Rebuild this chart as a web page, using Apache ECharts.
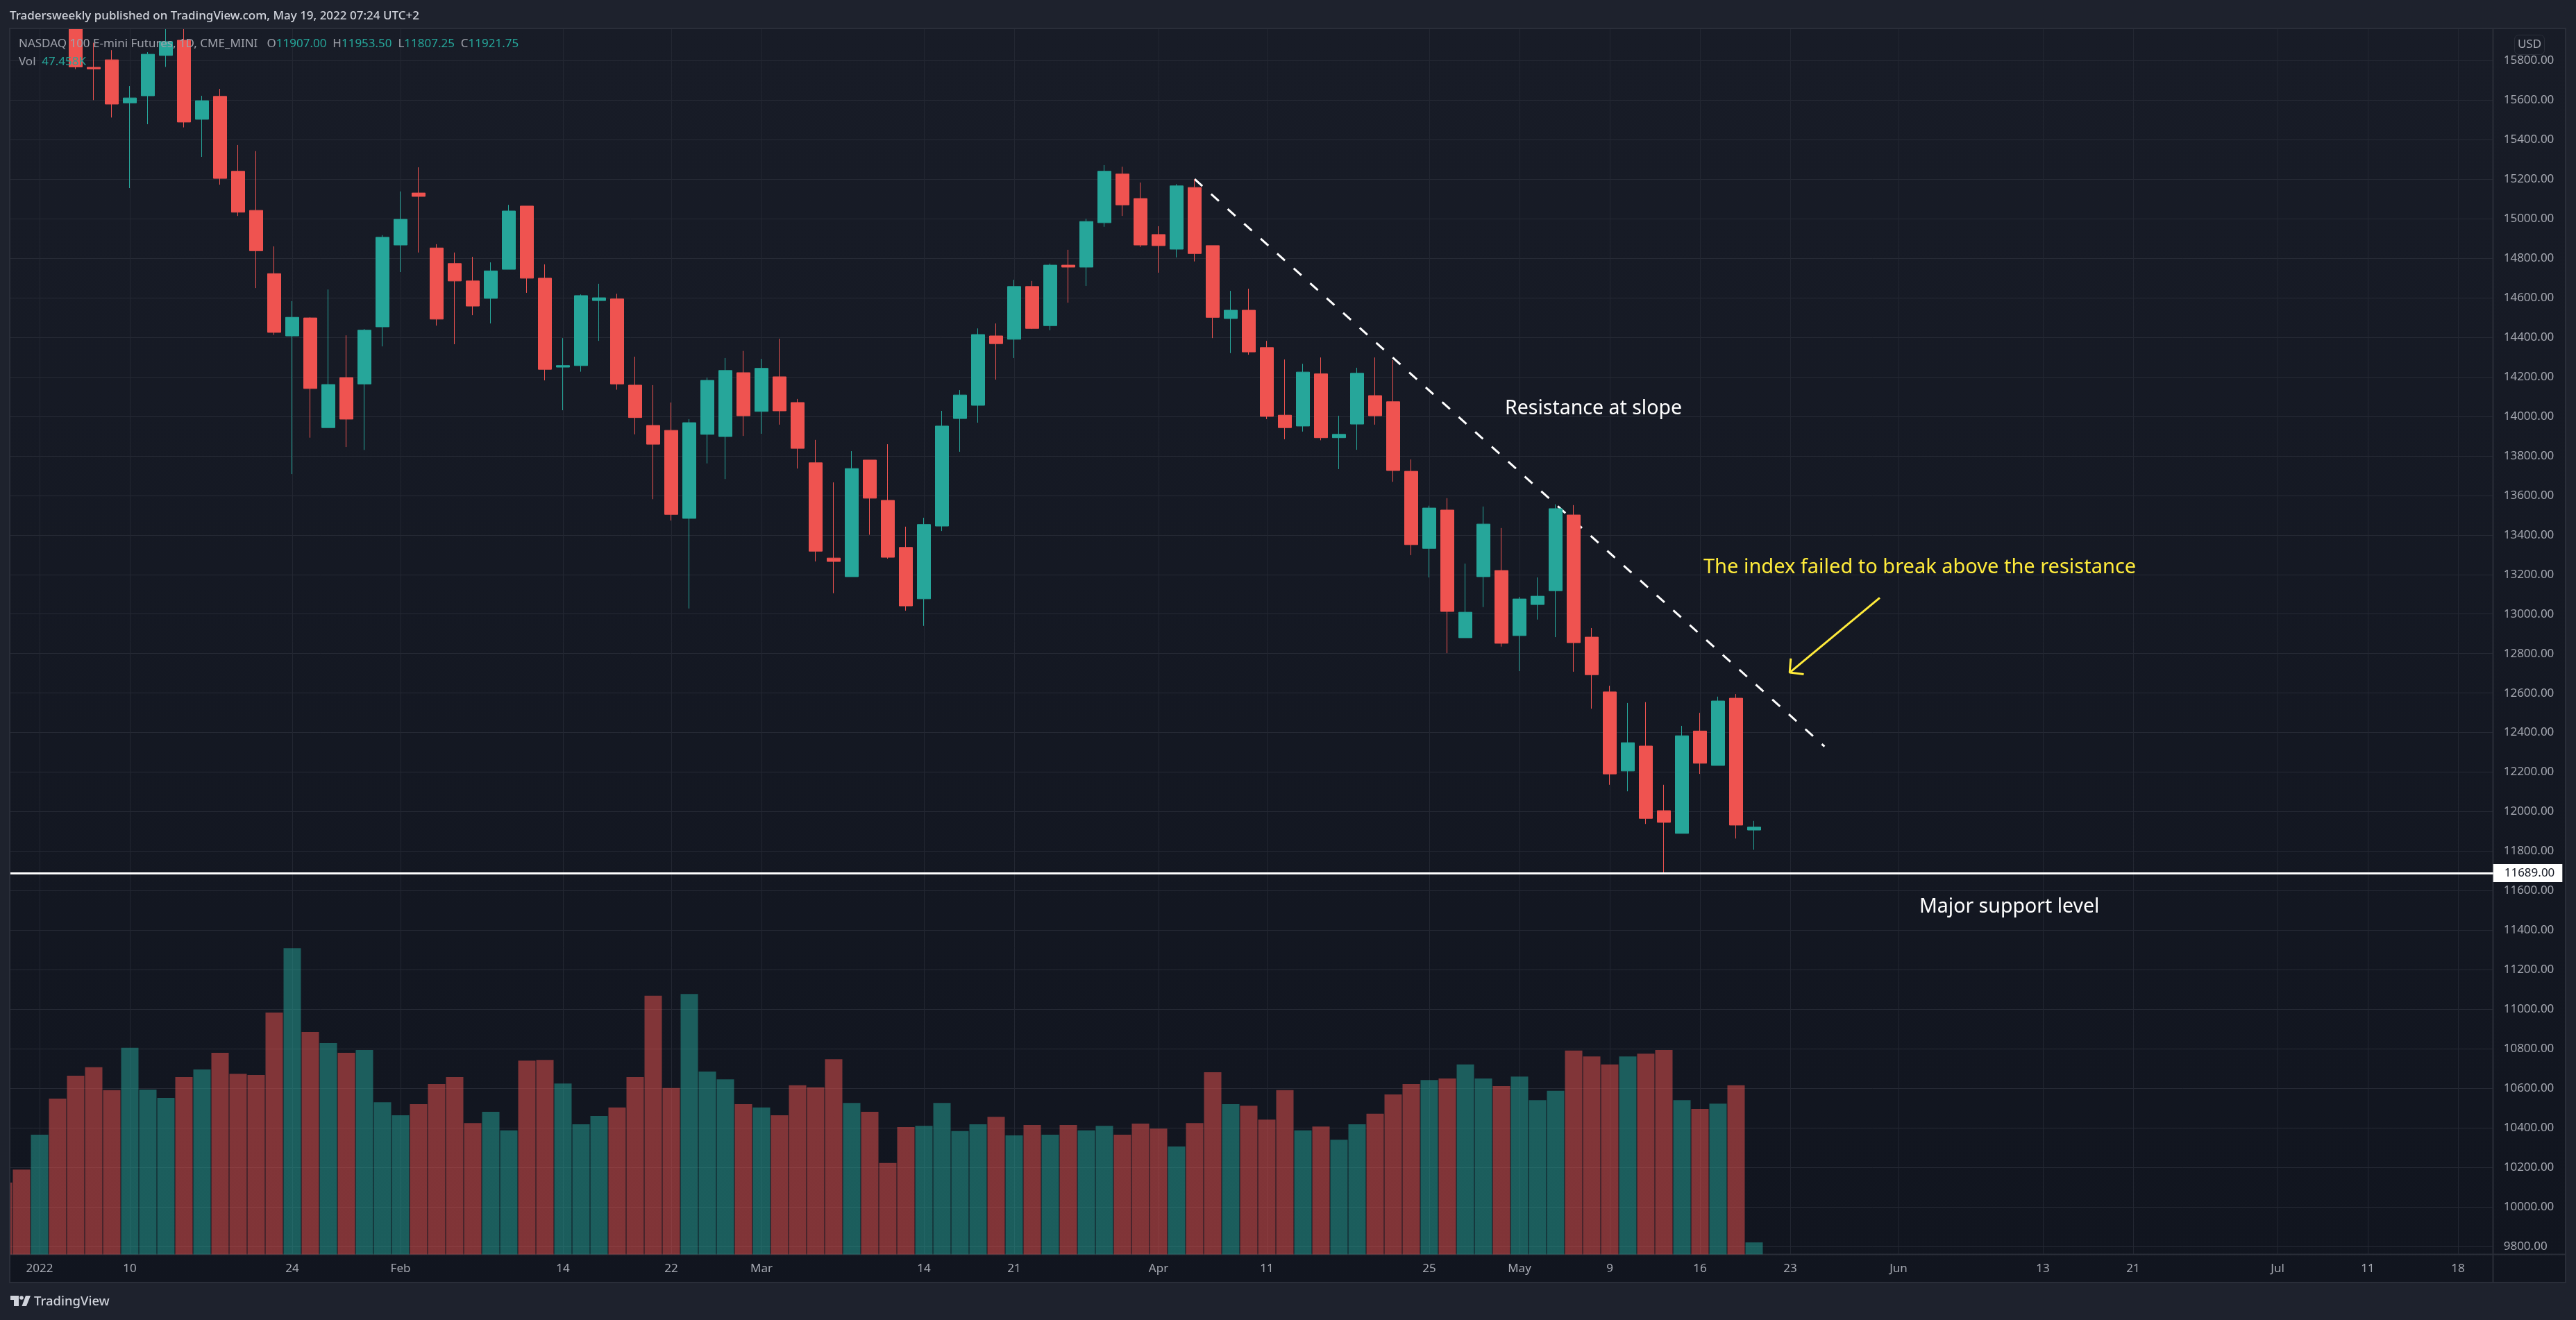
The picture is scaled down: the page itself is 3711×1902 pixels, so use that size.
<!DOCTYPE html>
<html>
<head>
<meta charset="utf-8">
<title>NASDAQ 100 E-mini Futures</title>
<script src="https://cdn.jsdelivr.net/npm/echarts@6/dist/echarts.min.js"></script>
<style>
html, body { margin: 0; padding: 0; background: #1e222d; }
#chart { width: 3711px; height: 1902px; }
</style>
</head>
<body>
<div id="chart"></div>
<script>
// session numbers, 0 = first session of 2022
const sessions = [-2,-1,0,1,2,3,4,5,6,7,8,9,10,11,12,13,14,15,16,17,18,19,20,21,22,23,24,25,26,27,28,29,30,31,32,33,34,35,36,37,38,39,40,41,42,43,44,45,46,47,48,49,50,51,52,53,54,55,56,57,58,59,60,61,62,63,64,65,66,67,68,69,70,71,72,73,74,75,76,77,78,79,80,81,82,83,84,85,86,87,88,89,90,91,92,93,94,95];

// the first bars are above the top of the pane, so these are rough
const opens = [16450,16380,16300,16480,16080,15766,15804,15586,15622,15826,15903,15503,15619,15240,15042,14722,14407,14498,13943,14196,14164,14453,14867,15130,14852,14773,14685,14597,14744,15064,14699,14249,14257,14586,14594,14158,13954,13929,13484,13909,13898,14221,14025,14200,14070,13765,13283,13189,13779,13575,13337,13077,13445,13989,14056,14407,14390,14657,14459,14765,14755,14980,15226,15102,14920,14846,15158,14864,14495,14537,14348,14006,13951,14215,13892,13961,14105,14074,13722,13332,13526,12880,13189,13220,12891,13048,13118,13501,12883,12606,12206,12332,12005,11890,12408,12234,12574,11907];
const closes = [16400,16320,16420,16300,15768,15758,15580,15611,15832,15896,15489,15597,15204,15033,14838,14425,14501,14141,14161,13986,14436,14906,14997,15113,14492,14685,14558,14736,15039,14699,14238,14257,14611,14600,14164,13994,13859,13504,13968,14182,14232,14003,14243,14028,13838,13318,13266,13736,13586,13287,13041,13453,13951,14108,14414,14368,14657,14445,14765,14755,14986,15240,15070,14867,14864,15166,14824,14501,14537,14326,14000,13943,14224,13892,13909,14218,14003,13726,13351,13536,13013,13009,13455,12852,13076,13090,13533,12855,12693,12191,12349,11966,11946,12384,12245,12560,11932,11921.75];
const lows = [16350,16280,16260,16260,15757,15600,15512,15155,15478,15768,15462,15313,15172,15014,14649,14412,13708,13892,13943,13845,13830,14354,14730,14829,14459,14365,14512,14470,14744,14625,14182,14031,14226,14382,14135,13909,13581,13473,13028,13762,13683,13901,13912,13958,13736,13266,13105,13189,13401,13280,13017,12940,13420,13821,13968,14186,14295,14442,14436,14575,14660,14959,15014,14857,14727,14804,14784,14396,14320,14312,13986,13884,13923,13879,13733,13831,13958,13669,13298,13185,12802,12880,13035,12835,12711,12972,12883,12708,12521,12136,12103,11938,11690,11890,12191,12234,11864,11807.25];
const highs = [16520,16450,16480,16540,16150,15890,15853,15671,15843,15990,15990,15622,15657,15373,15342,14860,14583,14501,14642,14410,14442,14917,15138,15260,14871,14829,14807,14779,15070,15064,14769,14396,14617,14671,14620,14302,14158,14070,13986,14196,14295,14331,14291,14393,14088,13881,13666,13824,13779,13859,13442,13487,14028,14133,14445,14470,14691,14685,14773,14843,15000,15271,15263,15183,14962,15175,15200,14864,14635,14646,14382,14288,14266,14298,14003,14246,14298,14284,13782,13548,13586,13255,13544,13435,13087,13185,13555,13551,12929,12637,12550,12554,12136,12434,12500,12582,12595,11953.5];

// volume in thousands
const volumes = [285,337,476,619,710,744,653,821,655,622,705,735,801,718,713,961,1217,884,840,801,812,605,553,597,677,705,522,567,493,770,773,679,517,550,584,705,1028,661,1035,727,696,597,584,553,672,664,776,602,567,363,506,511,602,490,517,547,473,514,476,514,493,511,476,520,500,429,522,724,597,591,536,653,493,508,456,517,559,636,677,693,699,755,699,669,707,613,650,810,787,755,787,798,812,613,578,599,672,47.458];

const timeTicks = [0,5,14,20,29,35,40,49,54,62,68,77,82,87,92,97,103,111,116,124,129,134];
const timeLabels = ['2022','10','24','Feb','14','22','Mar','14','21','Apr','11','25','May','9','16','23','Jun','13','21','Jul','11','18'];
const priceTicks = [9800,10000,10200,10400,10600,10800,11000,11200,11400,11600,11800,12000,12200,12400,12600,12800,13000,13200,13400,13600,13800,14000,14200,14400,14600,14800,15000,15200,15400,15600,15800];

const supportLevel = 11689;
const trendX = [64, 98.9];
const trendY = [15200, 12330];
const arrowX = [101.96, 96.97, 97.03, 96.97, 97.75];
const arrowY = [13082, 12704, 12775, 12704, 12695];

const UP = '#26a69a';
const DOWN = '#ef5350';
const LABEL = '#a6a9b2';
const PAGE = '#1e222d';
const FONT = '"Noto Sans", sans-serif';

const chart = echarts.init(document.getElementById('chart'));

const candles = sessions.map((s, i) => [s, opens[i], closes[i], lows[i], highs[i]]);
const volumeBars = sessions.map((s, i) => ({
    value: [s, volumes[i]],
    itemStyle: { color: closes[i] >= opens[i] ? 'rgba(38,166,154,0.5)' : 'rgba(239,83,80,0.5)' }
}));

function textItem(x, y, text, size, fill, weight) {
    return {
        type: 'text', x: x, y: y, z: 50,
        style: {
            text: text, fill: fill,
            font: (weight || 'normal') + ' ' + size + 'px ' + FONT,
            textVerticalAlign: 'middle'
        }
    };
}

const option = {
    backgroundColor: PAGE,
    animation: false,
    graphic: [
        {
            type: 'rect', z: -10, silent: true,
            shape: { x: 14, y: 41, width: 3682, height: 1807 },
            style: {
                fill: new echarts.graphic.LinearGradient(0, 0, 0, 1, [
                    { offset: 0, color: '#181c27' },
                    { offset: 1, color: '#11151f' }
                ])
            }
        },
        // candles and bars are not cut at the pane edge, so mask what sticks out
        { type: 'rect', z: 10, silent: true, shape: { x: 0, y: 0, width: 3711, height: 41 }, style: { fill: PAGE } },
        { type: 'rect', z: 10, silent: true, shape: { x: 0, y: 0, width: 14, height: 1902 }, style: { fill: PAGE } },
        {
            type: 'rect', z: 11, silent: true,
            shape: { x: 14, y: 41, width: 3682, height: 1807 },
            style: { fill: 'transparent', stroke: '#2a2e39', lineWidth: 2 }
        },
        {
            type: 'line', z: 1, silent: true,
            shape: { x1: 3591.5, y1: 41, x2: 3591.5, y2: 1848 },
            style: { stroke: '#2a2e39', lineWidth: 2 }
        },
        {
            type: 'line', z: 1, silent: true,
            shape: { x1: 14, y1: 1807.5, x2: 3696, y2: 1807.5 },
            style: { stroke: '#2a2e39', lineWidth: 2 }
        },
        {
            type: 'rect', z: 20, silent: true,
            shape: { x: 3622.5, y: 50.5, width: 43, height: 28, r: 6 },
            style: { fill: 'transparent', stroke: '#2a2e39', lineWidth: 1 }
        },
        {
            type: 'text', x: 3644, y: 64, z: 50,
            style: { text: 'USD', fill: LABEL, font: '17px ' + FONT, textAlign: 'center', textVerticalAlign: 'middle' }
        },
        textItem(14, 23, 'Tradersweekly published on TradingView.com, May 19, 2022 07:24 UTC+2', 17, '#d1d4dc', '500'),
        {
            type: 'text', x: 27, y: 63, z: 50,
            style: {
                text: '{g|NASDAQ 100 E-mini Futures, 1D, CME_MINI   O}{t|11907.00}{g|  H}{t|11953.50}{g|  L}{t|11807.25}{g|  C}{t|11921.75}',
                font: '17px ' + FONT, textVerticalAlign: 'middle',
                rich: {
                    g: { fill: '#9fa2ab', font: '17px ' + FONT },
                    t: { fill: UP, font: '17px ' + FONT }
                }
            }
        },
        {
            type: 'text', x: 27, y: 89, z: 50,
            style: {
                text: '{g|Vol  }{t|47.458K}',
                font: '17px ' + FONT, textVerticalAlign: 'middle',
                rich: {
                    g: { fill: '#9fa2ab', font: '17px ' + FONT },
                    t: { fill: UP, font: '17px ' + FONT }
                }
            }
        },
        textItem(2168, 589, 'Resistance at slope', 28.5, '#ffffff'),
        textItem(2454, 818, 'The index failed to break above the resistance', 29, '#ffeb3b'),
        textItem(2765, 1307, 'Major support level', 28.5, '#ffffff'),
        // logo mark
        { type: 'polygon', z: 50, silent: true, shape: { points: [[15, 1867], [27, 1867], [27, 1882], [20, 1882], [20, 1873], [15, 1873]] }, style: { fill: '#d1d4dc' } },
        { type: 'circle', z: 50, silent: true, shape: { cx: 31, cy: 1870, r: 2.8 }, style: { fill: '#d1d4dc' } },
        { type: 'polygon', z: 50, silent: true, shape: { points: [[37, 1867], [44, 1867], [38, 1882], [31.5, 1882]] }, style: { fill: '#d1d4dc' } },
        textItem(49, 1876, 'TradingView', 18.5, '#d1d4dc', '500')
    ],
    grid: { left: 14, top: 41, width: 3577.7, height: 1766.4 },
    xAxis: {
        type: 'value',
        min: -1.654,
        max: 135.95,
        axisLine: { show: false },
        axisTick: { show: false, customValues: timeTicks },
        axisLabel: {
            customValues: timeTicks,
            color: LABEL, fontFamily: FONT, fontSize: 17, margin: 12,
            formatter: v => timeLabels[timeTicks.indexOf(v)]
        },
        splitLine: { show: true, lineStyle: { color: '#232732', width: 1 } }
    },
    yAxis: [
        {
            type: 'value',
            position: 'right',
            min: 9760.3,
            max: 15962.6,
            axisLine: { show: false },
            axisTick: { show: false, customValues: priceTicks },
            axisLabel: {
                customValues: priceTicks,
                color: LABEL, fontFamily: FONT, fontSize: 17, margin: 15,
                formatter: v => v.toFixed(2)
            },
            splitLine: { show: true, lineStyle: { color: '#262a35', width: 1 } }
        },
        {
            type: 'value',
            min: 0,
            max: 4874,
            show: false
        }
    ],
    series: [
        {
            name: 'Vol',
            type: 'bar',
            yAxisIndex: 1,
            barWidth: 25,
            z: 1,
            data: volumeBars
        },
        {
            name: 'Resistance',
            type: 'line',
            z: 2,
            symbol: 'none',
            silent: true,
            lineStyle: { color: '#ffffff', width: 3, type: [15, 17] },
            data: trendX.map((x, i) => [x, trendY[i]])
        },
        {
            name: 'NQ',
            type: 'candlestick',
            barWidth: 20,
            z: 3,
            itemStyle: {
                color: UP, color0: DOWN,
                borderColor: UP, borderColor0: DOWN,
                borderWidth: 1
            },
            data: candles,
            markLine: {
                silent: true,
                symbol: 'none',
                animation: false,
                lineStyle: { color: '#ffffff', width: 3, type: 'solid' },
                label: {
                    position: 'end',
                    distance: 0,
                    formatter: p => p.value.toFixed(2),
                    color: '#131722',
                    backgroundColor: '#ffffff',
                    fontFamily: FONT,
                    fontSize: 17,
                    padding: [5, 11, 4, 16]
                },
                data: [{ yAxis: supportLevel }]
            }
        },
        {
            name: 'Arrow',
            type: 'line',
            z: 4,
            symbol: 'none',
            silent: true,
            lineStyle: { color: '#ffeb3b', width: 3 },
            data: arrowX.map((x, i) => [x, arrowY[i]])
        }
    ]
};

chart.setOption(option);
</script>
</body>
</html>
